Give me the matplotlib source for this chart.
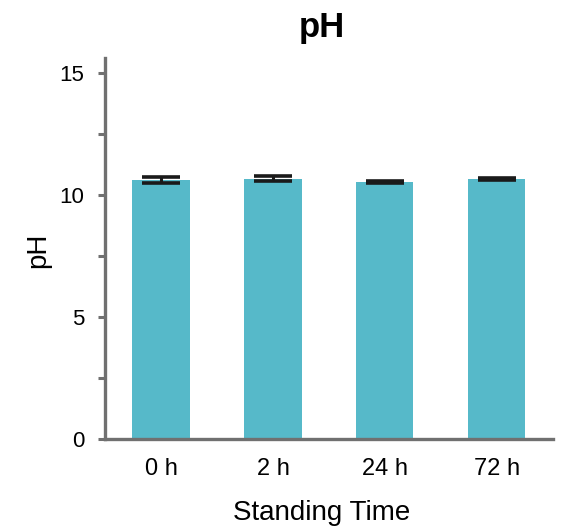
import matplotlib
matplotlib.use("Agg")
import matplotlib.pyplot as plt
import numpy as np

plt.rcParams['font.family'] = ['Liberation Sans', 'DejaVu Sans']

categories = ["0 h", "2 h", "24 h", "72 h"]
ph_mean = [10.62, 10.66, 10.52, 10.65]
ph_err = [0.13, 0.11, 0.05, 0.05]
y_ticks = [0, 5, 10, 15]

bar_color = "#56B9C9"
spine_color = "#707070"

fig = plt.figure(figsize=(5.62, 5.32), dpi=100)
ax = fig.add_axes([0.1868, 0.1748, 0.797, 0.716])

x = np.arange(len(categories))
ax.bar(x, ph_mean, width=0.51, color=bar_color, zorder=1)
ax.errorbar(x, ph_mean, yerr=ph_err, fmt="none", ecolor="#1a1a1a",
            elinewidth=2.2, capsize=14, capthick=2.6, zorder=2)

ax.set_xlim(-0.5, 3.5)
ax.set_ylim(0, 15.6)
ax.set_xticks(x)
ax.set_xticklabels(categories, fontsize=17)
ax.set_yticks(y_ticks)
ax.set_yticks(np.arange(0, 15.1, 2.5), minor=True)
ax.set_yticklabels([str(t) for t in y_ticks], fontsize=16)

for side in ("top", "right"):
    ax.spines[side].set_visible(False)
for side in ("left", "bottom"):
    ax.spines[side].set_color(spine_color)
    ax.spines[side].set_linewidth(2.4)

ax.tick_params(axis="y", which="both", length=5, width=2.2, color=spine_color, pad=10)
ax.tick_params(axis="x", length=0, pad=14)

fig.text(0.573, 0.022, "Standing Time", fontsize=20, ha="center", va="baseline")
fig.text(0.068, 0.53, "pH", fontsize=20, ha="center", va="center", rotation=90)
fig.text(0.573, 0.931, "pH", fontsize=25, fontweight="bold", ha="center", va="baseline")

fig.savefig("out.png", dpi=100)
